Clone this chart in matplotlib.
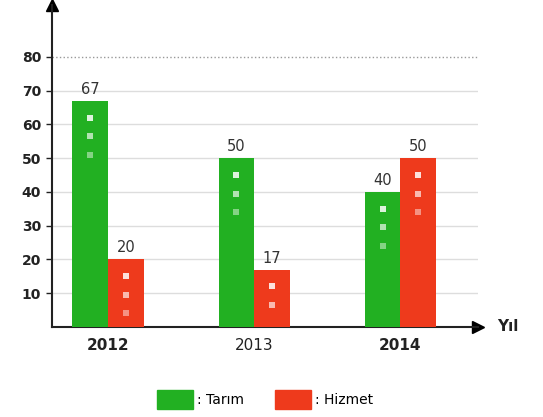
import numpy as np
import matplotlib.pyplot as plt
from matplotlib.patches import Patch

years = ['2012', '2013', '2014']
tarim = [67, 50, 40]
hizmet = [20, 17, 50]
yticks = [10, 20, 30, 40, 50, 60, 70, 80]

green = '#22b022'
red = '#ee3a1c'

fig = plt.figure(figsize=(5.43, 4.17), dpi=100)
ax = fig.add_axes([0.096, 0.216, 0.784, 0.772])

x = np.arange(len(years))
w = 0.245
b1 = ax.bar(x - w / 2, tarim, w, color=green, zorder=3)
b2 = ax.bar(x + w / 2, hizmet, w, color=red, zorder=3)

# white dots inside bars
for xs, vals in [(x - w / 2, tarim), (x + w / 2, hizmet)]:
    for xi, v in zip(xs, vals):
        for k, d in enumerate([5, 10.5, 16]):
            if v - d > 2:
                ax.scatter(xi, v - d, marker='s', s=14, color='white',
                           alpha=0.85 - 0.2 * k, zorder=4, linewidths=0)

for bars, vals in [(b1, tarim), (b2, hizmet)]:
    for r, v in zip(bars, vals):
        ax.text(r.get_x() + r.get_width() / 2, v + 1.2, str(v),
                ha='center', va='bottom', fontsize=10.5, color='#333333')

ax.set_xlim(-0.384, 2.53)
ax.set_ylim(0, 95.4)
ax.set_yticks(yticks)
ax.set_yticklabels([str(t) for t in yticks], fontsize=10, fontweight='bold',
                   color='#222222')
ax.set_xticks(x)
ax.set_xticklabels(years, fontsize=11, color='#222222')
for lbl, wgt in zip(ax.get_xticklabels(), ['bold', 'normal', 'bold']):
    lbl.set_fontweight(wgt)
ax.tick_params(axis='x', length=0, pad=8)
ax.tick_params(axis='y', length=4, width=1, color='#222222', pad=4)

for t in yticks:
    ax.axhline(t, color='#999999' if t == 80 else '#dddddd',
               lw=1, ls=':' if t == 80 else '-', zorder=1)

for s in ['top', 'right']:
    ax.spines[s].set_visible(False)
ax.spines['left'].set_color('#222222')
ax.spines['bottom'].set_color('#222222')
ax.spines['left'].set_linewidth(1.5)
ax.spines['bottom'].set_linewidth(1.5)

# arrow heads
ax.plot(0, 1, '^k', ms=8, transform=ax.transAxes, clip_on=False)
ax.plot(1, 0, '>k', ms=8, transform=ax.transAxes, clip_on=False)
fig.text(0.915, 0.218, 'Yıl', fontsize=11, fontweight='bold',
         ha='left', va='center', color='#222222')

handles = [Patch(color=green, label=': Tarım'), Patch(color=red, label=': Hizmet')]
fig.legend(handles=handles, loc='center', bbox_to_anchor=(0.488, 0.042), ncol=2,
           frameon=False, fontsize=10, handlelength=2.6, handleheight=1.7,
           columnspacing=2.2, handletextpad=0.3)

fig.savefig('out.png', dpi=100)
